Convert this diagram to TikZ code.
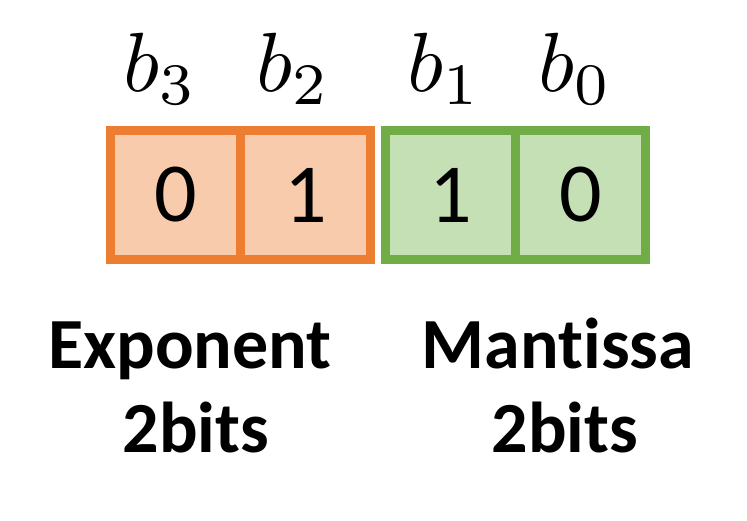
\documentclass[tikz,border=0pt]{standalone}
\usepackage{fontspec}
\setmainfont{Carlito}[Ligatures=NoCommon]
\begin{document}
\begin{tikzpicture}[x=1pt, y=-1pt,
  cell/.style={draw, line width=9pt, minimum width=130pt, minimum height=129pt, inner sep=0pt, font=\fontsize{84}{100}\selectfont},
  expcell/.style={cell, fill=exp area, draw=exp edge},
  mancell/.style={cell, fill=man area, draw=man edge},
  bitlabel/.style={anchor=base, inner sep=0pt, scale=8.4},
  fieldname/.style={anchor=base, inner sep=0pt, font=\fontsize{72}{86}\selectfont\bfseries}]

\definecolor{exp edge}{HTML}{ED7D31}
\definecolor{exp area}{HTML}{F8CBAD}
\definecolor{man edge}{HTML}{70AD47}
\definecolor{man area}{HTML}{C5E0B4}

\useasboundingbox (0,0) rectangle (747,521);

\foreach \i/\x/\v in {3/175.5/0,2/305.5/1}
\node[expcell] (c\i) at (\x,195) {\v};
\foreach \i/\x/\v in {1/450.5/1,0/580.5/0}
\node[mancell] (c\i) at (\x,195) {\v};

\foreach \i/\dx in {3/-15,2/-12,1/-6,0/-5}
\node[bitlabel] (b\i) at ([xshift=\dx pt, yshift=34pt]c\i.north) {$b_\i$};

\node[fieldname] (expname) at (190,368) {Exponent};
\node[fieldname] (expbits) at (196,452) {2bits};
\node[fieldname] (manname) at (558,368) {Mantissa};
\node[fieldname] (manbits) at (565,452) {2bits};
\end{tikzpicture}
\end{document}
